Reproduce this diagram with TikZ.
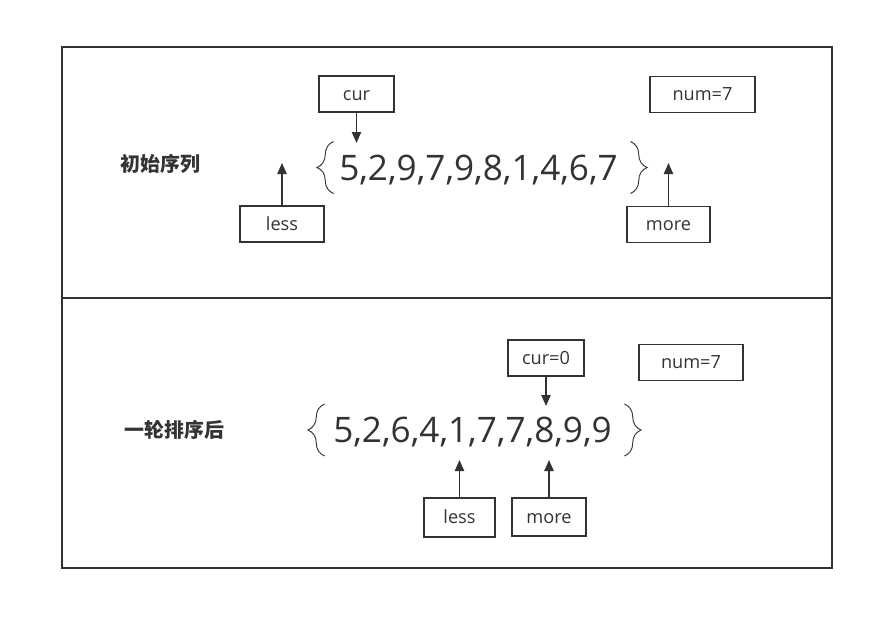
\documentclass[tikz,border=0pt]{standalone}
\usepackage{fontspec}
\setmainfont{Open Sans}
\newfontfamily\cjkfont{Noto Sans CJK SC}
\usepackage{xcolor}
\usetikzlibrary{arrows.meta, calc, decorations.pathreplacing}
\definecolor{InkGray}{HTML}{333333}

\tikzset{
  box/.style={draw, rectangle, minimum height=1.08cm, inner sep=0pt, text height=1.1em, text depth=0pt, font=\fontsize{15.5}{18}\selectfont},
  seq/.style={inner xsep=0.15cm, inner ysep=0pt, text height=0.75cm, text depth=0pt, font=\fontsize{30}{36}\selectfont},
  title/.style={font=\cjkfont\bfseries\fontsize{17}{20}\selectfont},
  ptr/.style={-{Triangle[length=3.3mm, width=2.8mm]}},
  curly/.style={decorate, decoration={brace, amplitude=0.5cm}, line width=0.8pt},
}

\begin{document}
\begin{tikzpicture}[x=0.03cm, y=-0.03cm, line width=1.1pt, color=InkGray]
        \fill[white] (0,0) rectangle (893,630);
        \useasboundingbox (0,0) rectangle (893,630);

        % Frame
        \draw (62,47) rectangle (832,568);
        \draw (62,298) -- (832,298);

        % Initial sequence
        \node[title] (titleA) at (160.5,164) {初始序列};
        \node[seq] (seqA) at (478.5,167.5) {5,2,9,7,9,8,1,4,6,7};
        \node[box, minimum width=2.25cm] (curA) at (356.5,94) {cur};
        \node[box, minimum width=3.15cm] (numA) at (702.5,94.5) {num=7};
        \node[box, minimum width=2.52cm] (lessA) at (282,224) {less};
        \node[box, minimum width=2.49cm] (moreA) at (668.5,224.5) {more};

        \draw[curly] ($(seqA.west)+(0,26)$) -- ($(seqA.west)+(0,-26)$);
        \draw[curly] ($(seqA.east)+(7,-26)$) -- ($(seqA.east)+(7,26)$);

        \coordinate (curTipA) at (356.5,143);
        \coordinate (lessTipA) at (282,163);
        \coordinate (moreTipA) at (668.5,163);
        \draw[ptr] (curA) -- (curTipA);
        \draw[ptr] (lessA) -- (lessTipA);
        \draw[ptr] (moreA) -- (moreTipA);

        % After one round
        \node[title] (titleB) at (174.5,430) {一轮排序后};
        \node[seq] (seqB) at (472.5,430) {5,2,6,4,1,7,7,8,9,9};
        \node[box, minimum width=2.28cm] (curB) at (546,358) {cur=0};
        \node[box, minimum width=3.12cm] (numB) at (691,362.5) {num=7};
        \node[box, minimum width=2.13cm, minimum height=1.17cm] (lessB) at (459.5,517.5) {less};
        \node[box, minimum width=2.22cm, minimum height=1.14cm] (moreB) at (549,517) {more};

        \draw[curly] ($(seqB.west)+(-3,26)$) -- ($(seqB.west)+(-3,-26)$);
        \draw[curly] ($(seqB.east)+(7,-26)$) -- ($(seqB.east)+(7,26)$);

        \coordinate (curTipB) at (546,406);
        \coordinate (lessTipB) at (459.5,460);
        \coordinate (moreTipB) at (549,460);
        \draw[ptr] (curB) -- (curTipB);
        \draw[ptr] (lessB) -- (lessTipB);
        \draw[ptr] (moreB) -- (moreTipB);
    \end{tikzpicture}
\end{document}
